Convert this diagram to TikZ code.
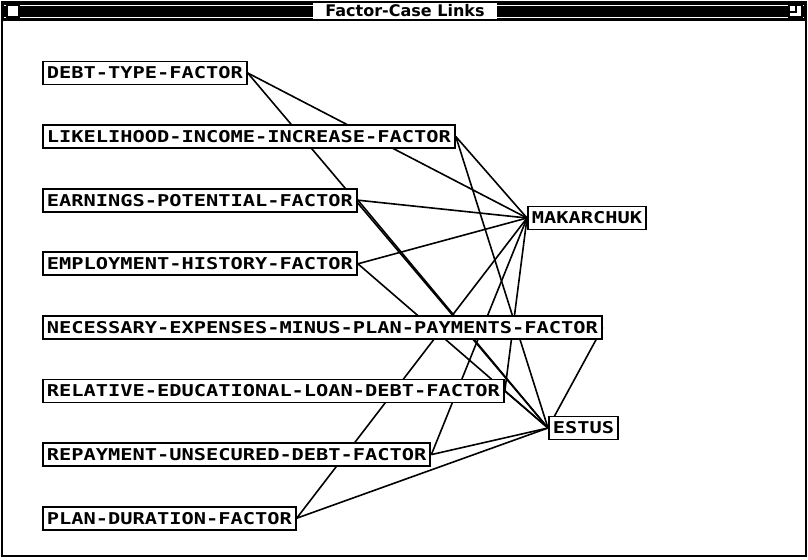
\documentclass[tikz,border=0pt]{standalone}
\usepackage{fontspec}
\usepackage{tikz}
\usetikzlibrary{backgrounds,positioning}
\newfontfamily\boxfont[FakeStretch=1.25]{DejaVu Sans Mono}
\newfontfamily\titlefont{DejaVu Sans}

\begin{document}
\begin{tikzpicture}[x=0.75pt, y=-0.75pt,
       black, line width=1.1pt,
       every node/.style={font=\boxfont\bfseries\fontsize{12.2}{14}\selectfont},
       linkbox/.style={draw, fill=white, anchor=west, line width=1.4pt,
                       inner xsep=3pt, inner ysep=4.2pt,
                       text height=8.9pt, text depth=0pt},
       link/.style={black, line width=1.2pt}]
	\useasboundingbox (0,0) rectangle (808,560);

	%% Window frame and title bar
	\fill (2,2) rectangle (806,20);
	\draw[white, line width=0.6pt] (4,5) -- (804,5) (4,17) -- (804,17);
	\fill[white] (313,3) rectangle (497,19);
	\node[font=\titlefont\bfseries\fontsize{12}{14}\selectfont] (title) at (405,11) {Factor-Case Links};
	\draw[fill=white, line width=1pt] (7,5) rectangle (19,17);
	\draw[fill=white, line width=1pt] (789,5) rectangle (802,17);
	\draw[line width=0.8pt] (789,5) rectangle (796,12);
	\draw (2,20) -- (806,20);
	\draw[line width=1.5pt] (2,2) rectangle (806,556);

	%% Factor boxes, one per row
	\foreach [count=\i] \n/\t in {debt/DEBT-TYPE-FACTOR,
	        likely/LIKELIHOOD-INCOME-INCREASE-FACTOR,
	        earn/EARNINGS-POTENTIAL-FACTOR,
	        employ/EMPLOYMENT-HISTORY-FACTOR,
	        necess/NECESSARY-EXPENSES-MINUS-PLAN-PAYMENTS-FACTOR,
	        relative/RELATIVE-EDUCATIONAL-LOAN-DEBT-FACTOR,
	        repay/REPAYMENT-UNSECURED-DEBT-FACTOR,
	        plan/PLAN-DURATION-FACTOR}
		{\node [linkbox] (\n) at (42, 9.4+63.6*\i) {\t};}

	%% Case boxes
	\node [linkbox] (mak) at (527,218) {MAKARCHUK};
	\node [linkbox] (estus) at (548,428) {ESTUS};

	%% Links, kept behind the boxes
	\begin{pgfonlayer}{background}
	\foreach \n in {debt,likely,earn,employ,relative,repay,plan}
		\draw[link] (\n.east) -- (mak.west);
	\foreach \n in {debt,likely,earn,employ,necess,relative,repay,plan}
		\draw[link] (\n.east) -- (estus.west);
	\end{pgfonlayer}
\end{tikzpicture}
\end{document}
